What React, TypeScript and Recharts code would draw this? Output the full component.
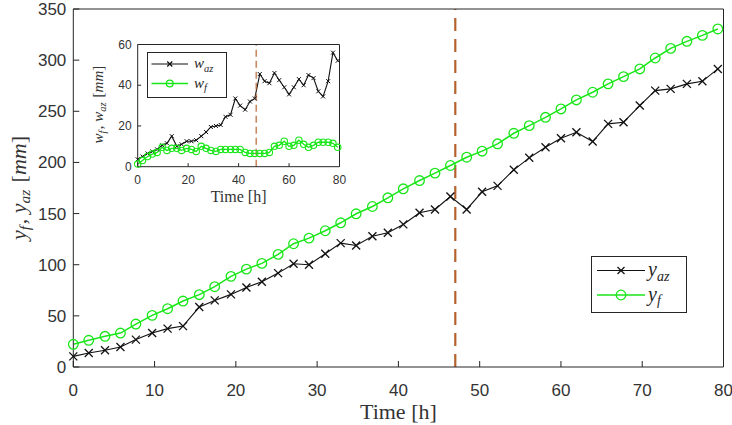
import React from "react";
import { LineChart, Line, XAxis, YAxis, ReferenceLine, Label } from "recharts";

// sample times [h]
const time = [
  0, 1.9, 3.9, 5.8, 7.7, 9.7, 11.6, 13.5, 15.5, 17.4, 19.4, 21.3, 23.2, 25.2,
  27.1, 29.0, 31.0, 32.9, 34.8, 36.8, 38.7, 40.6, 42.6, 44.5, 46.4, 48.4, 50.3,
  52.2, 54.2, 56.1, 58.1, 60.0, 61.9, 63.9, 65.8, 67.7, 69.7, 71.6, 73.5, 75.5,
  77.4, 79.3,
];

// displacements [mm]
const yAz = [
  10.4, 13.7, 16.3, 19.5, 26.8, 33.2, 37.5, 40.0, 58.6, 65.1, 71.0, 77.8, 83.4,
  91.8, 101.0, 100.0, 110.7, 121.1, 118.8, 127.9, 131.3, 139.4, 150.8, 154.0,
  166.7, 154.0, 171.3, 177.1, 192.8, 204.5, 214.8, 223.6, 229.5, 220.4, 237.7,
  239.3, 255.6, 270.2, 271.9, 276.8, 279.3, 291.4,
];
const yF = [
  22.2, 26.1, 30.0, 33.2, 42.0, 50.5, 57.0, 64.5, 70.7, 78.5, 88.6, 95.7, 101.3,
  110.1, 120.5, 126.0, 133.2, 141.0, 149.8, 156.9, 165.4, 174.2, 182.3, 189.5,
  197.0, 205.1, 211.0, 218.2, 228.5, 236.0, 244.1, 252.3, 261.1, 268.6, 276.8,
  283.9, 291.4, 302.1, 311.5, 318.4, 324.2, 330.5,
];

// widths [mm]
const wAz = [
  3.6, 5.0, 6.5, 7.5, 8.5, 10.5, 11.5, 15.0, 10.0, 11.0, 12.5, 12.5, 13.0, 15.0,
  17.0, 19.5, 20.0, 20.5, 24.5, 25.5, 33.5, 30.0, 28.0, 32.0, 33.5, 45.5, 42.0,
  41.0, 46.0, 42.5, 39.0, 35.5, 39.0, 43.0, 40.0, 45.0, 43.5, 37.0, 34.5, 42.0,
  56.0, 52.0,
];
const wF = [
  1.3, 3.0, 5.0, 6.2, 7.0, 9.5, 8.0, 9.0, 9.0, 8.0, 9.0, 8.5, 7.5, 10.0, 9.0,
  8.0, 7.5, 8.5, 8.5, 8.5, 8.5, 8.5, 7.0, 6.5, 6.5, 6.5, 6.5, 7.0, 10.0, 10.5,
  12.5, 10.0, 10.5, 13.0, 11.0, 9.5, 10.5, 12.0, 12.0, 12.0, 11.5, 9.5,
];

const mainXTicks = [0, 10, 20, 30, 40, 50, 60, 70, 80];
const mainYTicks = [0, 50, 100, 150, 200, 250, 300, 350];
const insetXTicks = [0, 20, 40, 60, 80];
const insetYTicks = [0, 20, 40, 60];
const changeTime = 47;

const mainData = time.map((t, i) => ({ t, yAz: yAz[i], yF: yF[i] }));
const insetData = time.map((t, i) => ({ t, wAz: wAz[i], wF: wF[i] }));

const AXIS = "#262626";
const TICK = "#333333";
const GREEN = "#19e619";
const BLACK = "#111111";
const DASH = "#b5622f";
const SANS = "'Liberation Sans', Arial, sans-serif";
const SERIF = "'Liberation Serif', 'Times New Roman', serif";

const crossDot = (size: number, width: number) => (props: any) => {
  const { cx, cy, index } = props;
  const h = size / 2;
  if (cx == null || cy == null) return <g key={`x-${index}`} />;
  return (
    <g key={`x-${index}`}>
      <line x1={cx - h} y1={cy - h} x2={cx + h} y2={cy + h} stroke={BLACK} strokeWidth={width} />
      <line x1={cx - h} y1={cy + h} x2={cx + h} y2={cy - h} stroke={BLACK} strokeWidth={width} />
    </g>
  );
};

// italic symbol with italic subscript
function Sym({ base, sub, size }: { base: string; sub: string; size: number }) {
  const shift = size * 0.22;
  return (
    <>
      <tspan fontStyle="italic">{base}</tspan>
      <tspan fontStyle="italic" fontSize={size * 0.7} dy={shift}>
        {sub}
      </tspan>
      <tspan dy={-shift}>{"\u200a"}</tspan>
    </>
  );
}

function LegendBox({
  left, top, width, height, rows, size, lineFrom, lineTo, textX, marker,
}: any) {
  return (
    <svg
      width={width}
      height={height}
      style={{ position: "absolute", left, top, overflow: "visible" }}
    >
      <rect x={0.5} y={0.5} width={width - 1} height={height - 1} fill="#fff" stroke={AXIS} strokeWidth={1} />
      {rows.map((r: any, i: number) => {
        const mx = (lineFrom + lineTo) / 2;
        return (
          <g key={i}>
            <line x1={lineFrom} y1={r.y} x2={lineTo} y2={r.y} stroke={r.color} strokeWidth={r.lw} />
            {r.kind === "x" ? (
              crossDot(marker.x, 1.3)({ cx: mx, cy: r.y, index: i })
            ) : (
              <circle cx={mx} cy={r.y} r={marker.o} fill="none" stroke={GREEN} strokeWidth={1.3} />
            )}
            <text x={textX} y={r.y + size * 0.28} fontFamily={SERIF} fontSize={size} fill={AXIS}>
              <Sym base={r.base} sub={r.sub} size={size} />
            </text>
          </g>
        );
      })}
    </svg>
  );
}

export default function App() {
  return (
    <div style={{ position: "relative", width: 732, height: 425, background: "#fff" }}>
      <style>{"body{margin:0}"}</style>

      <LineChart
        width={732}
        height={425}
        data={mainData}
        margin={{ top: 8, right: 7.5, bottom: 0, left: 0 }}
      >
        <XAxis
          xAxisId="b"
          dataKey="t"
          type="number"
          domain={[0, 80]}
          ticks={mainXTicks}
          interval={0}
          height={58}
          tickSize={-6}
          tickMargin={23}
          axisLine={{ stroke: AXIS }}
          tickLine={{ stroke: AXIS }}
          tick={{ fill: TICK, fontSize: 17, fontFamily: SANS }}
        >
          <Label
            content={({ viewBox }: any) => (
              <text
                x={viewBox.x + viewBox.width / 2}
                y={viewBox.y + 52}
                textAnchor="middle"
                fontFamily={SERIF}
                fontSize={22}
                fill={TICK}
              >
                Time [h]
              </text>
            )}
          />
        </XAxis>
        <XAxis
          xAxisId="top"
          orientation="top"
          dataKey="t"
          type="number"
          domain={[0, 80]}
          ticks={mainXTicks}
          interval={0}
          height={1}
          tickSize={-6}
          tick={false}
          axisLine={{ stroke: AXIS }}
          tickLine={{ stroke: AXIS }}
        />
        <YAxis
          yAxisId="l"
          type="number"
          domain={[0, 350]}
          ticks={mainYTicks}
          interval={0}
          width={73.3}
          tickSize={-6}
          tickMargin={13}
          axisLine={{ stroke: AXIS }}
          tickLine={{ stroke: AXIS }}
          tick={{ fill: TICK, fontSize: 17, fontFamily: SANS }}
        >
          <Label
            content={({ viewBox }: any) => {
              const cx = 25.5;
              const cy = viewBox.y + viewBox.height / 2;
              return (
                <text
                  transform={`translate(${cx},${cy}) rotate(-90)`}
                  textAnchor="middle"
                  fontFamily={SERIF}
                  fontSize={22}
                  fill={TICK}
                >
                  <Sym base="y" sub="f" size={22} />
                  <tspan>, </tspan>
                  <Sym base="y" sub="az" size={22} />
                  <tspan> [</tspan>
                  <tspan fontStyle="italic">mm</tspan>
                  <tspan>]</tspan>
                </text>
              );
            }}
          />
        </YAxis>
        <YAxis
          yAxisId="r"
          orientation="right"
          type="number"
          domain={[0, 350]}
          ticks={mainYTicks}
          interval={0}
          width={1}
          tickSize={-6}
          tick={false}
          axisLine={{ stroke: AXIS }}
          tickLine={{ stroke: AXIS }}
        />
        <Line
          xAxisId="b"
          yAxisId="l"
          type="linear"
          dataKey="yAz"
          stroke={BLACK}
          strokeWidth={1.1}
          dot={crossDot(8, 1.3)}
          isAnimationActive={false}
        />
        <Line
          xAxisId="b"
          yAxisId="l"
          type="linear"
          dataKey="yF"
          stroke={GREEN}
          strokeWidth={1.5}
          dot={{ r: 4.8, fill: "none", stroke: GREEN, strokeWidth: 1.3 }}
          isAnimationActive={false}
        />
        <ReferenceLine
          xAxisId="b"
          yAxisId="l"
          x={changeTime}
          stroke={DASH}
          strokeWidth={2.2}
          strokeDasharray="13 8"
        />
      </LineChart>

      <LegendBox
        left={591}
        top={256}
        width={96}
        height={57}
        size={20}
        lineFrom={6}
        lineTo={54}
        textX={57}
        marker={{ x: 7, o: 4.8 }}
        rows={[
          { y: 14.5, kind: "x", color: BLACK, lw: 1.2, base: "y", sub: "az" },
          { y: 39, kind: "o", color: GREEN, lw: 1.5, base: "y", sub: "f" },
        ]}
      />

      <div style={{ position: "absolute", left: 80, top: 35 }}>
        <LineChart
          width={270}
          height={180}
          data={insetData}
          margin={{ top: 8.5, right: 9.5, bottom: 0, left: 0 }}
        >
          <XAxis
            xAxisId="b"
            dataKey="t"
            type="number"
            domain={[0, 80]}
            ticks={insetXTicks}
            interval={0}
            height={48.3}
            tickSize={-3.5}
            tickMargin={12.5}
            axisLine={{ stroke: AXIS }}
            tickLine={{ stroke: AXIS }}
            tick={{ fill: TICK, fontSize: 12, fontFamily: SANS }}
          >
            <Label
              content={({ viewBox }: any) => (
                <text
                  x={viewBox.x + viewBox.width / 2}
                  y={viewBox.y + 35}
                  textAnchor="middle"
                  fontFamily={SERIF}
                  fontSize={16}
                  fill={TICK}
                >
                  Time [h]
                </text>
              )}
            />
          </XAxis>
          <XAxis
            xAxisId="top"
            orientation="top"
            dataKey="t"
            type="number"
            domain={[0, 80]}
            ticks={insetXTicks}
            interval={0}
            height={1}
            tickSize={-3.5}
            tick={false}
            axisLine={{ stroke: AXIS }}
            tickLine={{ stroke: AXIS }}
          />
          <YAxis
            yAxisId="l"
            type="number"
            domain={[0, 60]}
            ticks={insetYTicks}
            interval={0}
            width={57.7}
            tickSize={-3.5}
            tickMargin={9.5}
            axisLine={{ stroke: AXIS }}
            tickLine={{ stroke: AXIS }}
            tick={{ fill: TICK, fontSize: 12, fontFamily: SANS }}
          >
            <Label
              content={({ viewBox }: any) => {
                const cx = 23;
                const cy = viewBox.y + viewBox.height / 2 - 1;
                return (
                  <text
                    transform={`translate(${cx},${cy}) rotate(-90)`}
                    textAnchor="middle"
                    fontFamily={SERIF}
                    fontSize={15}
                    fill={TICK}
                  >
                    <Sym base="w" sub="f" size={15} />
                    <tspan>, </tspan>
                    <Sym base="w" sub="az" size={15} />
                    <tspan> [</tspan>
                    <tspan fontStyle="italic">mm</tspan>
                    <tspan>]</tspan>
                  </text>
                );
              }}
            />
          </YAxis>
          <YAxis
            yAxisId="r"
            orientation="right"
            type="number"
            domain={[0, 60]}
            ticks={insetYTicks}
            interval={0}
            width={1}
            tickSize={-3.5}
            tick={false}
            axisLine={{ stroke: AXIS }}
            tickLine={{ stroke: AXIS }}
          />
          <Line
            xAxisId="b"
            yAxisId="l"
            type="linear"
            dataKey="wAz"
            stroke={BLACK}
            strokeWidth={1.1}
            dot={crossDot(4, 1)}
            isAnimationActive={false}
          />
          <Line
            xAxisId="b"
            yAxisId="l"
            type="linear"
            dataKey="wF"
            stroke={GREEN}
            strokeWidth={1.3}
            dot={{ r: 3.2, fill: "none", stroke: GREEN, strokeWidth: 1.1 }}
            isAnimationActive={false}
          />
          <ReferenceLine
            xAxisId="b"
            yAxisId="l"
            x={changeTime}
            stroke={DASH}
            strokeOpacity={0.75}
            strokeWidth={1.6}
            strokeDasharray="7 4"
          />
        </LineChart>
      </div>

      <LegendBox
        left={147}
        top={51.5}
        width={80}
        height={46}
        size={15}
        lineFrom={4.5}
        lineTo={41}
        textX={47}
        marker={{ x: 5, o: 3.4 }}
        rows={[
          { y: 12, kind: "x", color: BLACK, lw: 1.2, base: "w", sub: "az" },
          { y: 31.5, kind: "o", color: GREEN, lw: 1.5, base: "w", sub: "f" },
        ]}
      />
    </div>
  );
}
